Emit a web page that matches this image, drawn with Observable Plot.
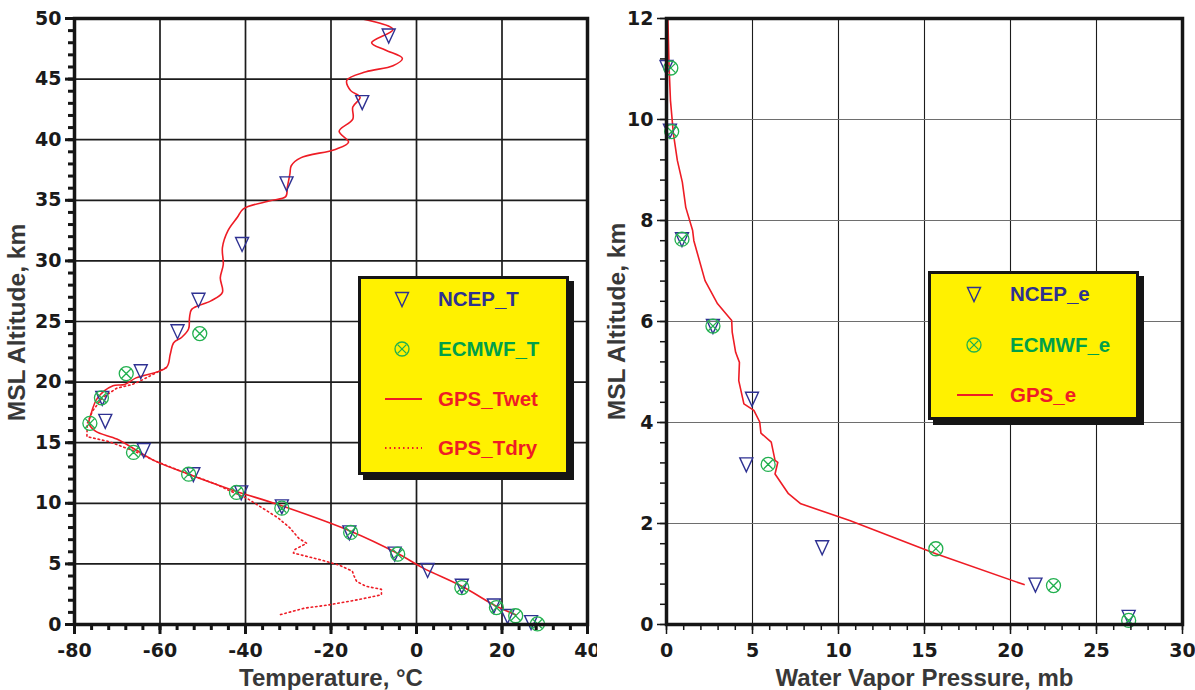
<!DOCTYPE html>
<html>
<head>
<meta charset="utf-8">
<script src="https://cdn.jsdelivr.net/npm/d3@7"></script>
<script src="https://cdn.jsdelivr.net/npm/@observablehq/plot@0.6"></script>
<style>
  html, body { margin: 0; padding: 0; background: #fff; }
  body { width: 1195px; height: 690px; position: relative; overflow: hidden;
         font-family: "Liberation Sans", Arial, sans-serif; font-weight: bold; }
  #row { display: flex; }
  .legend { position: absolute; box-sizing: border-box; background: #fff100;
            border: 3px solid #151515; box-shadow: 5px 5px 0 #151515; }
  .legend .item { position: absolute; font-size: 20.5px; font-weight: bold; line-height: 1; transform: translateY(-50%); white-space: nowrap; }
  .legend svg { position: absolute; overflow: visible; }
</style>
</head>
<body>
<div id="row"></div>
<script>
// ---------------- Data ----------------
// Left panel: temperature profiles
const ncepTemp = [-6.5, -12.7, -30.4, -40.8, -51.0, -55.9, -64.5, -73.5, -72.8, -63.8, -52.2, -41.0, -31.5, -15.7, -5.1, 2.6, 10.6, 18.1, 21.3, 26.8];
const ncepTAlt = [48.6, 43.1, 36.4, 31.4, 26.8, 24.2, 20.9, 18.7, 16.8, 14.4, 12.4, 10.9, 9.75, 7.6, 5.85, 4.5, 3.2, 1.57, 0.7, 0.2];

const ecmwfTemp = [-50.7, -67.9, -73.7, -76.4, -66.2, -53.3, -42.1, -31.5, -15.4, -4.4, 10.6, 18.7, 23.2, 28.3];
const ecmwfTAlt = [24.0, 20.7, 18.7, 16.6, 14.2, 12.4, 10.9, 9.6, 7.6, 5.8, 3.05, 1.4, 0.72, 0.05];

const twetTemp = [-13.2, -5.5, -10.5, -7.3, -3.3, -5.5, -11.8, -16.3, -15.4, -13.2, -14.9, -14.9, -18.1, -15.9, -19.0, -27.1, -29.3, -29.6, -30.2, -30.6, -34.2, -40.5, -41.9, -44.1, -45.4, -45.2, -45.9, -45.4, -48.1, -52.6, -53.1, -53.3, -54.9, -56.8, -57.6, -58.5, -65.6, -68.3, -71.0, -74.6, -76.2, -76.6, -75.1, -70.1, -65.6, -61.2, -53.3, -42.3, -32.4, -15.4, -4.6, 1.6, 10.6, 18.7, 23.2];
const twetAlt  = [50.0, 49.1, 48.0, 47.4, 46.7, 46.1, 45.6, 44.9, 44.05, 43.5, 42.7, 41.7, 40.7, 39.8, 39.2, 38.5, 37.85, 37.2, 36.1, 35.3, 34.96, 34.3, 33.6, 32.5, 31.1, 29.7, 28.6, 27.4, 26.7, 26.0, 25.3, 24.4, 23.7, 23.25, 22.3, 21.2, 20.35, 19.8, 19.7, 18.7, 17.3, 16.6, 15.95, 15.3, 14.4, 13.5, 12.4, 11.0, 9.9, 7.7, 5.9, 4.65, 3.15, 1.5, 0.8];

const tdryTemp = [-58.5, -64.6, -66.5, -70.1, -73.5, -75.8, -77.0, -77.1, -72.0, -66.0, -61.2, -53.3, -47.0, -44.1, -39.6, -36.0, -32.4, -29.7, -27.5, -25.7, -28.4, -28.8, -22.6, -18.1, -15.0, -14.6, -14.0, -11.8, -8.2, -8.2, -13.6, -20.8, -26.2, -32.0];
const tdryAlt  = [21.2, 20.1, 19.8, 19.5, 18.7, 17.6, 16.6, 15.5, 15.1, 14.3, 13.5, 12.4, 11.6, 11.1, 10.4, 9.6, 8.8, 8.0, 7.1, 6.7, 6.2, 5.9, 5.35, 4.9, 4.4, 4.0, 3.55, 3.15, 2.9, 2.45, 2.05, 1.6, 1.35, 0.8];

// Right panel: water vapor pressure profiles
const ncepE    = [0.0, 0.2, 0.9, 2.7, 4.97, 4.64, 9.05, 21.45, 26.87];
const ncepEAlt = [11.04, 9.78, 7.63, 5.91, 4.47, 3.17, 1.53, 0.79, 0.15];

const ecmwfE    = [0.25, 0.3, 0.9, 2.7, 5.91, 15.66, 22.5, 26.87];
const ecmwfEAlt = [11.02, 9.76, 7.63, 5.91, 3.17, 1.5, 0.77, 0.08];

const gpsE    = [0.08, 0.15, 0.23, 0.4, 0.63, 0.92, 1.12, 1.52, 1.59, 2.24, 2.97, 3.79, 3.82, 4.02, 4.24, 4.2, 4.5, 5.08, 5.42, 5.49, 6.09, 6.31, 6.47, 6.31, 7.09, 7.81, 10.65, 15.66, 20.79];
const gpsEAlt = [12.0, 11.04, 10.38, 9.72, 9.19, 8.76, 8.26, 7.8, 7.6, 6.81, 6.35, 6.02, 5.79, 5.39, 5.19, 4.83, 4.37, 4.24, 4.01, 3.79, 3.61, 3.25, 3.21, 2.98, 2.59, 2.39, 2.06, 1.4, 0.79];

// Ticks
const tempTicks = [-80, -60, -40, -20, 0, 20, 40];
const tempTickLabels = ["-80", "-60", "-40", "-20", "0", "20", "40"];
const altTicksL = [0, 5, 10, 15, 20, 25, 30, 35, 40, 45, 50];
const vapTicks = [0, 5, 10, 15, 20, 25, 30];
const altTicksR = [0, 2, 4, 6, 8, 10, 12];

// Legend labels
const legendLeft = ["NCEP_T", "ECMWF_T", "GPS_Twet", "GPS_Tdry"];
const legendRight = ["NCEP_e", "ECMWF_e", "GPS_e"];

// ---------------- Styling ----------------
const NAVY = "#2e3192", GREEN = "#22b04f", GREEN_TXT = "#00a04a", RED = "#ee1c25", INK = "#151515";
const FONT = "'Liberation Sans', Arial, sans-serif";
const TICKFONT = "'DejaVu Sans', 'Liberation Sans', sans-serif";

const zipXY = (xs, ys) => xs.map((v, i) => ({x: v, y: ys[i]}));

const invTri = { draw(ctx) { ctx.moveTo(-6.5, -6.5); ctx.lineTo(6.5, -6.5); ctx.lineTo(0, 7.5); ctx.closePath(); } };
const circX = { draw(ctx) { const r = 7, a = 4.4;
  ctx.moveTo(r, 0); ctx.arc(0, 0, r, 0, 2 * Math.PI);
  ctx.moveTo(-a, -a); ctx.lineTo(a, a); ctx.moveTo(a, -a); ctx.lineTo(-a, a); } };

function range(a, b, s) { return d3.range(a, b + s / 2, s); }

function panel({width, marginLeft, marginRight, xDomain, yDomain, xMajor, xMinor, yMajor, yMinor,
                xFormat, gridStroke, gridYStroke, gridWidth, tickWidth, marks, xTitle, yTitle, yTitleDy, yTitleDx}) {
  return Plot.plot({
    width, height: 690,
    marginLeft, marginRight, marginTop: 18, marginBottom: 66,
    style: {fontFamily: FONT, fontWeight: "bold", fontSize: "21px", background: "white", overflow: "visible"},
    x: {domain: xDomain, label: null},
    y: {domain: yDomain, label: null},
    marks: [
      Plot.gridX(xMajor, {stroke: gridStroke, strokeOpacity: 1, strokeWidth: gridWidth}),
      Plot.gridY(yMajor, {stroke: gridYStroke, strokeOpacity: 1, strokeWidth: gridWidth}),
      ...marks,
      Plot.frame({stroke: INK, strokeWidth: 3.5}),
      Plot.axisX(xMinor, {anchor: "bottom", tickSize: 6, strokeWidth: tickWidth, stroke: INK, tickFormat: () => "", label: null}),
      Plot.axisX(xMajor, {anchor: "bottom", tickSize: 10, tickPadding: 9, strokeWidth: tickWidth, stroke: INK, fill: "#1a1a1a",
                          fontFamily: TICKFONT, fontSize: 19, fontWeight: "bold", tickFormat: xFormat, label: null}),
      Plot.axisY(yMinor, {anchor: "left", tickSize: 6, strokeWidth: tickWidth, stroke: INK, tickFormat: () => "", label: null}),
      Plot.axisY(yMajor, {anchor: "left", tickSize: 9, tickPadding: 4, strokeWidth: tickWidth, stroke: INK, fill: "#1a1a1a",
                          fontFamily: TICKFONT, fontSize: 19, fontWeight: "bold", tickFormat: d => String(d), label: null}),
      Plot.text([yTitle], {text: d => d, frameAnchor: "left", rotate: -90, dx: yTitleDx, dy: yTitleDy,
                           fontSize: 24.5, fontWeight: "bold", fill: "#383838", textAnchor: "middle", lineAnchor: "middle"}),
      Plot.text([xTitle], {text: d => d, frameAnchor: "bottom", dy: 54,
                           fontSize: 24, fontWeight: "bold", fill: "#383838", textAnchor: "middle", lineAnchor: "middle"})
    ]
  });
}

const left = panel({
  width: 597, marginLeft: 74, marginRight: 10,
  xDomain: [-80, 40], yDomain: [0, 50],
  xMajor: tempTicks, xMinor: range(-80, 40, 4),
  yMajor: altTicksL, yMinor: range(0, 50, 1),
  xFormat: d => tempTickLabels[tempTicks.indexOf(d)],
  gridStroke: "#1c1c1c", gridYStroke: "#1c1c1c", gridWidth: 1.7, tickWidth: 3,
  xTitle: "Temperature, °C", yTitle: "MSL Altitude, km", yTitleDx: -57, yTitleDy: 1,
  marks: [
    Plot.line(zipXY(tdryTemp, tdryAlt), {x: "x", y: "y", stroke: RED, strokeWidth: 1.6, strokeDasharray: "1.5,3"}),
    Plot.line(zipXY(twetTemp, twetAlt), {x: "x", y: "y", stroke: RED, strokeWidth: 1.6, curve: "catmull-rom"}),
    Plot.dot(zipXY(ncepTemp, ncepTAlt), {x: "x", y: "y", symbol: invTri, fill: "none", stroke: NAVY, strokeWidth: 1.4}),
    Plot.dot(zipXY(ecmwfTemp, ecmwfTAlt), {x: "x", y: "y", symbol: circX, fill: "none", stroke: GREEN, strokeWidth: 1.3})
  ]
});

const right = panel({
  width: 598, marginLeft: 69, marginRight: 13,
  xDomain: [0, 30], yDomain: [0, 12],
  xMajor: vapTicks, xMinor: range(0, 30, 1),
  yMajor: altTicksR, yMinor: range(0, 12, 0.4),
  xFormat: d => String(d),
  gridStroke: "#1c1c1c", gridYStroke: "#6e6e6e", gridWidth: 1.1, tickWidth: 1.5,
  xTitle: "Water Vapor Pressure, mb", yTitle: "MSL Altitude, km", yTitleDx: -49, yTitleDy: 0,
  marks: [
    Plot.line(zipXY(gpsE, gpsEAlt), {x: "x", y: "y", stroke: RED, strokeWidth: 1.6}),
    Plot.dot(zipXY(ncepE, ncepEAlt), {x: "x", y: "y", symbol: invTri, fill: "none", stroke: NAVY, strokeWidth: 1.4}),
    Plot.dot(zipXY(ecmwfE, ecmwfEAlt), {x: "x", y: "y", symbol: circX, fill: "none", stroke: GREEN, strokeWidth: 1.3})
  ]
});

const row = document.getElementById("row");
row.appendChild(left);
row.appendChild(right);

// ---------------- Legends (HTML overlays) ----------------
const triSVG = `<svg width="1" height="1"><path d="M-6.5,-6.5L6.5,-6.5L0,7.5Z" fill="none" stroke="${NAVY}" stroke-width="1.4"/></svg>`;
const circSVG = `<svg width="1" height="1"><circle r="7" fill="none" stroke="${GREEN}" stroke-width="1.3"/><path d="M-4.4,-4.4L4.4,4.4M4.4,-4.4L-4.4,4.4" stroke="${GREEN}" stroke-width="1.3"/></svg>`;
const lineSVG = (len, dash) => `<svg width="1" height="1"><line x1="0" x2="${len}" y1="0" y2="0" stroke="${RED}" stroke-width="1.8" ${dash ? 'stroke-dasharray="1.5,3"' : ''}/></svg>`;

function makeLegend({left, top, width, height, markerX, textX, lineX0, lineLen, ys, labels, kinds, colors}) {
  const box = document.createElement("div");
  box.className = "legend";
  Object.assign(box.style, {left: left + "px", top: top + "px", width: width + "px", height: height + "px"});
  labels.forEach((lab, i) => {
    const y = ys[i] - 3;
    const k = kinds[i];
    const holder = document.createElement("div");
    holder.style.position = "absolute";
    holder.style.left = ((k === "line" || k === "dots") ? lineX0 - 3 : markerX - 3) + "px";
    holder.style.top = y + "px";
    holder.innerHTML = k === "tri" ? triSVG : k === "circ" ? circSVG : lineSVG(lineLen, k === "dots");
    holder.firstChild.style.left = "0px"; holder.firstChild.style.top = "0px";
    box.appendChild(holder);
    const t = document.createElement("div");
    t.className = "item";
    t.textContent = lab;
    Object.assign(t.style, {left: (textX - 3) + "px", top: y + "px", color: colors[i]});
    box.appendChild(t);
  });
  document.body.appendChild(box);
}

makeLegend({left: 358, top: 276, width: 211, height: 199, markerX: 44, textX: 80, lineX0: 27, lineLen: 37,
  ys: [23, 73, 123, 172], labels: legendLeft, kinds: ["tri", "circ", "line", "dots"],
  colors: [NAVY, GREEN_TXT, RED, RED]});
makeLegend({left: 928, top: 271, width: 211, height: 149, markerX: 46, textX: 82, lineX0: 29, lineLen: 36,
  ys: [23, 74, 124], labels: legendRight, kinds: ["tri", "circ", "line"],
  colors: [NAVY, GREEN_TXT, RED]});
</script>
</body>
</html>
